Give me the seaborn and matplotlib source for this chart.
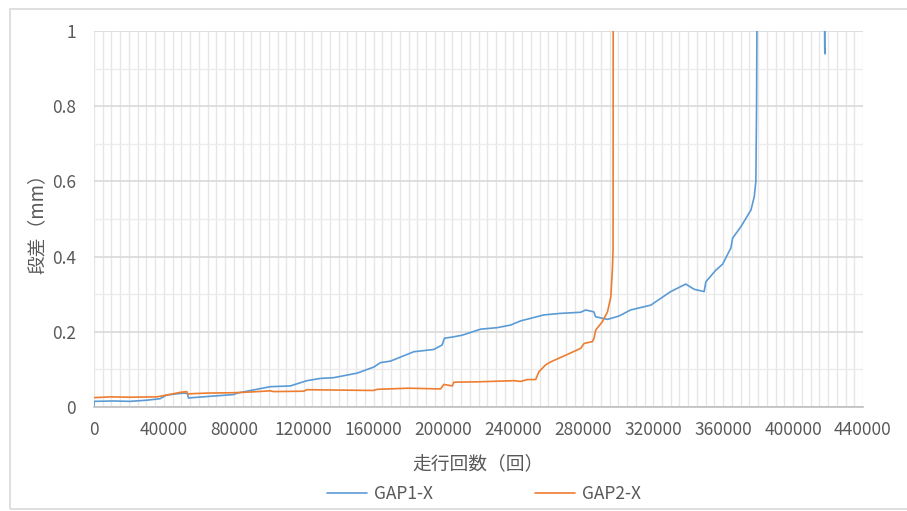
import numpy as np
import pandas as pd
import matplotlib
matplotlib.use("Agg")
import matplotlib.pyplot as plt
import matplotlib.patches as mpatches
from matplotlib.ticker import MultipleLocator
import seaborn as sns

# Readings taken off the reference chart (run count vs. step in mm)
gap1_runs = [0, 0, 11000, 20600, 30000, 37800, 41600, 51200, 53500, 54000,
             65000, 79800, 82000, 100800, 112300, 121800, 129500, 137100, 150500, 160000,
             163900, 169600, 183000, 194400, 199200, 200500, 205000, 210700, 221200, 230700,
             238400, 244100, 257500, 267000, 278500, 281300, 286000, 287000, 293800, 300400,
             307000, 318600, 330000, 338600, 343400, 349100, 350100, 355800, 359700, 364400,
             365400, 370200, 375900, 377800, 378700, 379100, 379300, 379500]
gap1_step = [0.0, 0.015, 0.016, 0.015, 0.018, 0.022, 0.032, 0.037, 0.036, 0.024,
             0.028, 0.033, 0.037, 0.054, 0.056, 0.070, 0.076, 0.078, 0.090, 0.106,
             0.118, 0.122, 0.147, 0.153, 0.165, 0.183, 0.186, 0.191, 0.207, 0.211,
             0.218, 0.229, 0.245, 0.249, 0.252, 0.258, 0.253, 0.240, 0.233, 0.242,
             0.258, 0.271, 0.307, 0.327, 0.313, 0.307, 0.333, 0.364, 0.380, 0.423,
             0.449, 0.480, 0.524, 0.560, 0.600, 0.800, 1.000, 1.200]
gap1_tail_runs = [418000, 418200, 418300]
gap1_tail_step = [1.10, 0.96, 0.94]

gap2_runs = [0, 10000, 20000, 35900, 42000, 49300, 53100, 53500, 65000, 80000,
             90000, 100800, 102700, 120000, 121800, 140000, 160000, 162000, 180000, 198300,
             200200, 205000, 205900, 220000, 240300, 244100, 248000, 252700, 254600, 258400,
             261300, 270000, 278500, 280400, 285200, 286100, 287100, 290900, 293800, 295700,
             296600, 297000, 297100]
gap2_step = [0.025, 0.027, 0.026, 0.027, 0.032, 0.039, 0.041, 0.035, 0.037, 0.038,
             0.040, 0.043, 0.041, 0.042, 0.046, 0.045, 0.044, 0.047, 0.050, 0.048,
             0.060, 0.056, 0.066, 0.067, 0.070, 0.068, 0.073, 0.073, 0.094, 0.112,
             0.120, 0.138, 0.156, 0.169, 0.174, 0.183, 0.205, 0.227, 0.253, 0.293,
             0.364, 0.418, 1.200]

x_ticks = list(range(0, 440001, 40000))
y_ticks = [0, 0.2, 0.4, 0.6, 0.8, 1.0]
y_tick_labels = ["0", "0.2", "0.4", "0.6", "0.8", "1"]

BLUE = "#5B9BD5"
ORANGE = "#ED7D31"
TXT = "#595959"

sns.set_style("white")
plt.rcParams["font.family"] = ["Noto Sans CJK JP", "DejaVu Sans"]

fig = plt.figure(figsize=(9.07, 5.11), dpi=100)
ax = fig.add_axes([94 / 907, 1 - 407 / 511, (863 - 94) / 907, (407 - 31) / 511])

df1 = pd.DataFrame({"run": gap1_runs, "step": gap1_step})
df1t = pd.DataFrame({"run": gap1_tail_runs, "step": gap1_tail_step})
df2 = pd.DataFrame({"run": gap2_runs, "step": gap2_step})

sns.lineplot(data=df1, x="run", y="step", ax=ax, color=BLUE, lw=1.2,
             estimator=None, sort=False, label="GAP1-X", legend=False)
sns.lineplot(data=df1t, x="run", y="step", ax=ax, color=BLUE, lw=1.5,
             estimator=None, sort=False, legend=False)
sns.lineplot(data=df2, x="run", y="step", ax=ax, color=ORANGE, lw=1.2,
             estimator=None, sort=False, label="GAP2-X", legend=False)

ax.set_xlim(0, 440000)
ax.set_ylim(0, 1)
ax.set_xticks(x_ticks)
ax.set_xticklabels([str(v) for v in x_ticks])
ax.xaxis.set_minor_locator(MultipleLocator(5000))
ax.set_yticks(y_ticks)
ax.set_yticklabels(y_tick_labels)
ax.yaxis.set_minor_locator(MultipleLocator(0.1))

ax.grid(which="major", axis="y", color="#D9D9D9", lw=1.2)
ax.grid(which="minor", axis="y", color="#EDEDED", lw=1.0)
ax.grid(which="both", axis="x", color="#E6E6E6", lw=1.0)
ax.set_axisbelow(True)

ax.tick_params(axis="both", which="both", length=0, labelsize=12.5, colors=TXT)
ax.tick_params(axis="y", pad=13)
ax.tick_params(axis="x", pad=10)

for side in ["top", "right", "left"]:
    ax.spines[side].set_visible(False)
ax.spines["bottom"].set_color("#BFBFBF")
ax.spines["bottom"].set_linewidth(1.2)

ax.set_xlabel("走行回数（回）", fontsize=13.5, color=TXT, labelpad=10)
ax.set_ylabel("段差（mm）", fontsize=13.5, color=TXT, labelpad=3)

handles, labels = ax.get_legend_handles_labels()
fig.legend(handles, labels, loc="center", bbox_to_anchor=(484 / 907, 1 - 494 / 511),
           ncol=2, frameon=False, fontsize=12.5, labelcolor=TXT,
           handlelength=2.3, handletextpad=0.4, columnspacing=5.9)

# light chart-area border like the spreadsheet export
fig.patches.append(mpatches.Rectangle((10 / 907, 2 / 511), 1.2, (509 - 9) / 511,
                                      transform=fig.transFigure, fill=False,
                                      edgecolor="#D9D9D9", lw=1.2))

fig.savefig("out.png", dpi=100)
